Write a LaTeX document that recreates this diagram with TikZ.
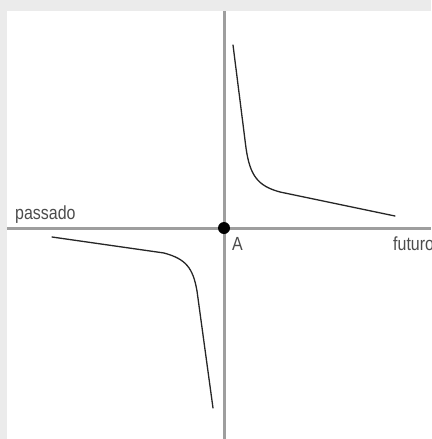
\documentclass[tikz,border=0pt]{standalone}
\usepackage{fontspec}
\setmainfont{Liberation Sans}
\newfontfamily\narrowfont[FakeStretch=0.84]{Liberation Sans}
\begin{document}
\begin{tikzpicture}[x=1pt,y=-1pt,
  axis/.style={draw=black!38,line width=3pt},
  curve/.style={draw=black!85,line width=1.3pt,line cap=round},
  lbl/.style={inner sep=0pt,anchor=base west,text=black!70,font=\narrowfont\fontsize{19}{19}\selectfont}]
\useasboundingbox (0,0) rectangle (431,439);
\clip (0,0) rectangle (431,439);
\fill[black!8] (0,0) rectangle (431,439);
\fill[white] (7,11) rectangle (431,439);
\coordinate (L) at (7,228);
\coordinate (R) at (431,228);
\coordinate (T) at (224,11);
\coordinate (B) at (224,439);
\draw[axis] (L) -- (R);
\draw[axis] (T) -- (B);
\draw[curve] (233,45) -- (246,148) .. controls (250,176) and (258,186) .. (280,192) -- (395,216);
\draw[curve] (52,237) -- (164,253) .. controls (186,259) and (193,268) .. (197,291) -- (213,408);
\node[circle,fill=black,inner sep=0pt,minimum size=12pt] (A) at (224,228) {};
\node[lbl] (pas) at (15,219) {passado};
\node[lbl] (alab) at (232,250) {A};
\node[lbl] (fut) at (393,250) {futuro};
\end{tikzpicture}
\end{document}
